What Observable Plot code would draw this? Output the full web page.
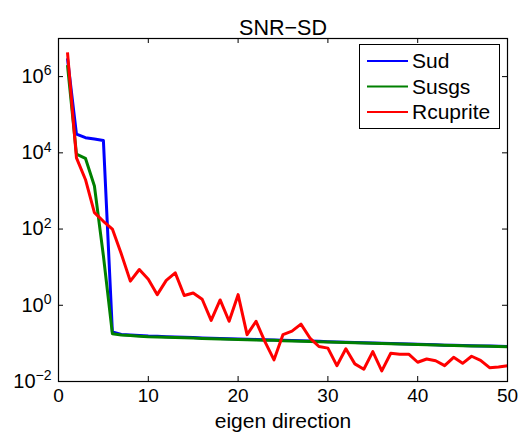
<!DOCTYPE html>
<html>
<head>
<meta charset="utf-8">
<script src="https://cdn.jsdelivr.net/npm/d3@7"></script>
<script src="https://cdn.jsdelivr.net/npm/@observablehq/plot@0.6"></script>
<style>
  html, body { margin: 0; padding: 0; background: #fff; }
  #chart svg { display: block; }
</style>
</head>
<body>
<div id="chart"></div>
<script>
const titleText = "SNR−SD";
const xLabel = "eigen direction";
const seriesNames = ["Sud", "Susgs", "Rcuprite"];
const seriesColors = ["#0000ff", "#008000", "#ff0000"];
const xTicks = [0, 10, 20, 30, 40, 50];
const yTicks = [1e-2, 1e0, 1e2, 1e4, 1e6];

const eigenDirection = d3.range(1, 51);

const sud = [3e6, 3.1e4, 2.5e4, 2.3e4, 2.1e4, 0.2, 0.172, 0.166, 0.161, 0.156,
  0.153, 0.15, 0.147, 0.145, 0.142, 0.139, 0.137, 0.135, 0.133, 0.131,
  0.129, 0.127, 0.125, 0.123, 0.121, 0.119, 0.117, 0.115, 0.113, 0.111,
  0.109, 0.107, 0.105, 0.104, 0.102, 0.101, 0.099, 0.098, 0.096, 0.095,
  0.093, 0.092, 0.09, 0.089, 0.088, 0.087, 0.086, 0.085, 0.084, 0.083];

const susgs = [2e6, 9.3e3, 7.2e3, 1.35e3, 20, 0.18, 0.165, 0.16, 0.155, 0.15,
  0.148, 0.145, 0.142, 0.14, 0.138, 0.135, 0.133, 0.131, 0.129, 0.127,
  0.125, 0.123, 0.121, 0.12, 0.118, 0.116, 0.114, 0.112, 0.111, 0.109,
  0.107, 0.106, 0.104, 0.103, 0.101, 0.1, 0.098, 0.097, 0.095, 0.094,
  0.092, 0.091, 0.09, 0.088, 0.087, 0.086, 0.085, 0.084, 0.083, 0.082];

const rcuprite = [4.3e6, 7.4e3, 2.0e3, 270, 160, 100, 22, 4.3, 8.7, 4.8,
  1.9, 4.5, 7.1, 1.8, 2.1, 1.44, 0.4, 1.38, 0.38, 1.9,
  0.17, 0.38, 0.11, 0.037, 0.17, 0.21, 0.32, 0.138, 0.083, 0.075,
  0.026, 0.072, 0.029, 0.021, 0.061, 0.019, 0.055, 0.052, 0.052, 0.032,
  0.039, 0.035, 0.026, 0.043, 0.030, 0.046, 0.036, 0.023, 0.024, 0.026];

const seriesValues = [sud, susgs, rcuprite];
const rows = [];
seriesNames.forEach((name, i) => {
  eigenDirection.forEach((x, j) => rows.push({series: name, x, y: seriesValues[i][j]}));
});

const W = 518, H = 434;
const mL = 58, mR = 11, mT = 38, mB = 53;
const plotW = W - mL - mR, plotH = H - mT - mB;
const font = "'Liberation Sans', Arial, Helvetica, sans-serif";

const chart = Plot.plot({
  width: W,
  height: H,
  marginLeft: mL,
  marginRight: mR,
  marginTop: mT,
  marginBottom: mB,
  style: {fontFamily: font, background: "#fff", color: "#000"},
  x: {domain: [0, 50]},
  y: {type: "log", domain: [1e-2, 1e7]},
  color: {domain: seriesNames, range: seriesColors},
  marks: [
    Plot.axisX(xTicks, {anchor: "bottom", tickSize: 0, tickPadding: 7, fontSize: 19, label: null}),
    Plot.axisY(yTicks, {anchor: "left", tickSize: 0, tickPadding: 7, fontSize: 20, label: null,
      tickFormat: d => "10|" + String(Math.round(Math.log10(d))).replace("-", "−")}),
    Plot.tickX(xTicks, {x: d => d, insetTop: plotH - 5, stroke: "#000"}),
    Plot.tickX(xTicks, {x: d => d, insetBottom: plotH - 5, stroke: "#000"}),
    Plot.tickY(yTicks, {y: d => d, insetRight: plotW - 5, stroke: "#000"}),
    Plot.tickY(yTicks, {y: d => d, insetLeft: plotW - 5, stroke: "#000"}),
    Plot.line(rows, {x: "x", y: "y", z: "series", stroke: "series", strokeWidth: 3,
      strokeLinejoin: "round", strokeLinecap: "butt"}),
    Plot.frame({stroke: "#000", strokeWidth: 1.2}),
    Plot.text([titleText], {text: d => d, frameAnchor: "top", dy: -19, fontSize: 21.5}),
    Plot.text([xLabel], {text: d => d, frameAnchor: "bottom", dy: 46, fontSize: 21})
  ]
});

document.getElementById("chart").appendChild(chart);

const svg = d3.select(chart);
// superscript exponents on y tick labels
svg.selectAll('g[aria-label="y-axis tick label"] text').each(function () {
  const t = d3.select(this);
  const parts = t.text().split("|");
  if (parts.length !== 2) return;
  t.text("");
  t.append("tspan").text(parts[0]);
  t.append("tspan").attr("dy", "-0.55em").attr("font-size", 14).text(parts[1]);
});

// legend box
const lg = svg.append("g").attr("font-family", font).attr("font-size", 21)
  .attr("text-anchor", "start");
lg.append("rect").attr("x", 359.5).attr("y", 44.5).attr("width", 140).attr("height", 84)
  .attr("fill", "#fff").attr("stroke", "#000").attr("stroke-width", 1);
seriesNames.forEach((name, i) => {
  const yy = 61 + i * 25.5;
  lg.append("line").attr("x1", 367).attr("x2", 408).attr("y1", yy).attr("y2", yy)
    .attr("stroke", seriesColors[i]).attr("stroke-width", 2);
  lg.append("text").attr("x", 412).attr("y", yy).attr("dy", "0.35em")
    .attr("text-anchor", "start").text(name);
});
</script>
</body>
</html>
